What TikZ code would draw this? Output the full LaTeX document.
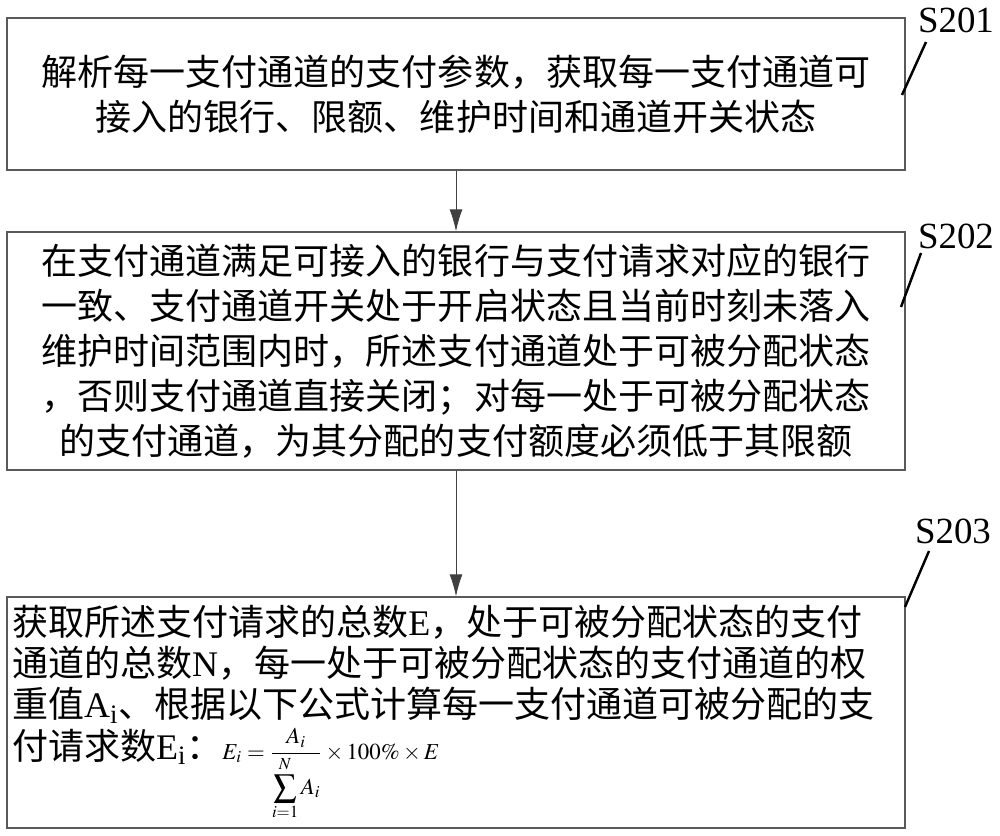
\documentclass[tikz,border=0pt]{standalone}
\usepackage{mathptmx}
\usepackage{fontspec}
\setmainfont{Liberation Serif}
\newfontfamily\cjk{Noto Sans CJK SC}
\usetikzlibrary{positioning,arrows.meta}
\begin{document}
\begin{tikzpicture}[x=0.02cm,y=-0.02cm]
	\useasboundingbox (0,0) rectangle (1000,835);
	\tikzstyle{stepbox}=[draw=black!65,line width=0.8pt,minimum width=17.96cm,inner xsep=0.1cm,
		font=\cjk\fontsize{20.5}{25.6}\selectfont]
	\tikzstyle{steplabel}=[font=\fontsize{21}{24}\selectfont,inner sep=0pt]

	\node[stepbox,minimum height=3.04cm,align=center] (B1) at (456,94)
		{解析每一支付通道的支付参数，获取每一支付通道可\\接入的银行、限额、维护时间和通道开关状态};
	\node[stepbox,minimum height=4.76cm,align=center] (B2) at (456,351)
		{在支付通道满足可接入的银行与支付请求对应的银行\\一致、支付通道开关处于开启状态且当前时刻未落入\\维护时间范围内时，所述支付通道处于可被分配状态\\，否则支付通道直接关闭；对每一处于可被分配状态\\的支付通道，为其分配的支付额度必须低于其限额};
	\node[stepbox,minimum height=4.62cm,text width=17.76cm,align=left,inner ysep=0.05cm,
		font=\cjk\fontsize{20.5}{23.5}\selectfont] (B3) at (456,712.5)
		{获取所述支付请求的总数{\rmfamily E}，处于可被分配状态的支付\\通道的总数{\rmfamily N}，每一处于可被分配状态的支付通道的权\\重值{\rmfamily A\textsubscript{i}}、根据以下公式计算每一支付通道可被分配的支\\付请求数{\rmfamily E\textsubscript{i}}：{\fontsize{13}{15}\selectfont$\displaystyle E_i=\frac{A_i}{\displaystyle\sum_{i=1}^{N}A_i}\times100\%\times E$}};

	\node[steplabel] (L1) at (956,20) {S201};
	\node[steplabel] (L2) at (956,236) {S202};
	\node[steplabel] (L3) at (953,531) {S203};

	\coordinate (T1) at (926,42);
	\coordinate (H1) at (902,95);
	\coordinate (T2) at (921,253);
	\coordinate (H2) at (901,307);
	\coordinate (T3) at (929,551);
	\coordinate (H3) at (905,607);

	\tikzstyle{flow}=[->,>={Latex[length=4.4mm,width=2.6mm]},draw=black!75,line width=0.5pt]
	\draw[flow] (B1) -- (B2);
	\draw[flow] (B2) -- (B3);

	\tikzstyle{tick}=[line width=1.4pt]
	\draw[tick] (T1) -- (H1);
	\draw[tick] (T2) -- (H2);
	\draw[tick] (T3) -- (H3);
\end{tikzpicture}
\end{document}
